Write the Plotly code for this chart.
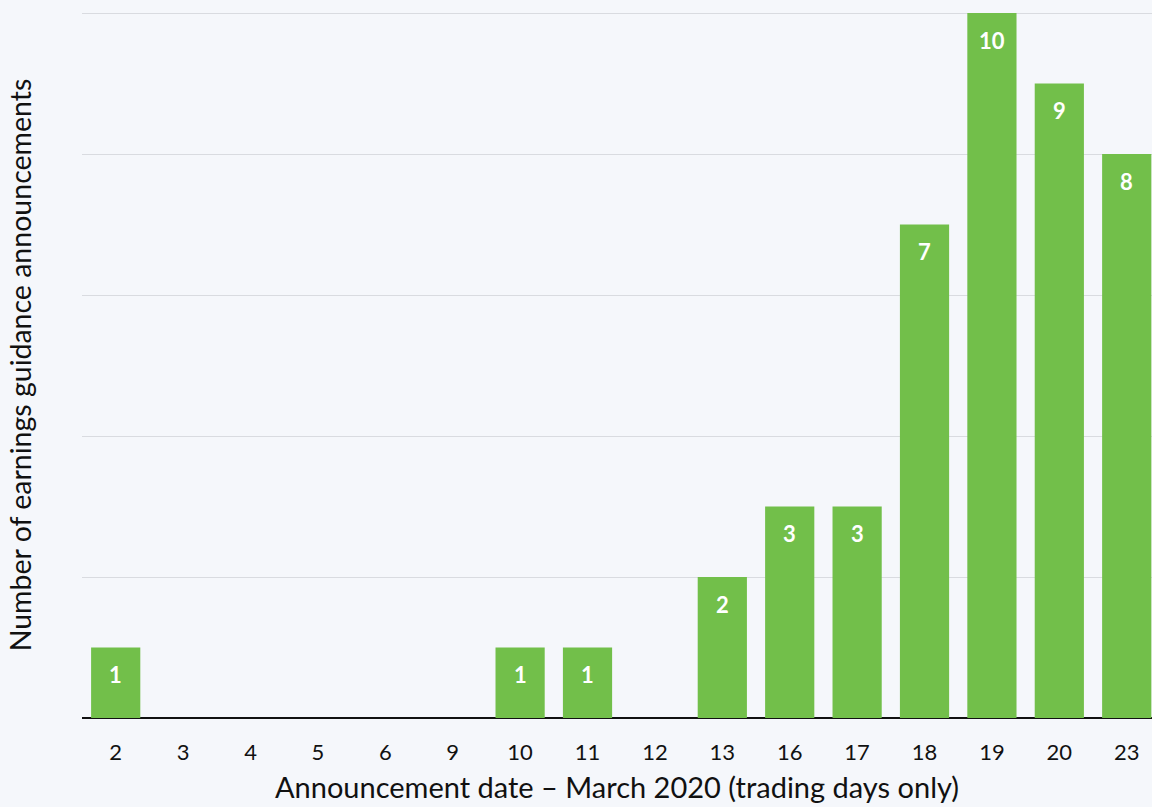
import plotly.graph_objects as go

dates = ["2", "3", "4", "5", "6", "9", "10", "11", "12", "13", "16", "17", "18", "19", "20", "23"]
counts = [1, 0, 0, 0, 0, 0, 1, 1, 0, 2, 3, 3, 7, 10, 9, 8]

FONT = "Lato, 'Open Sans', sans-serif"

fig = go.Figure(go.Bar(
    x=dates, y=counts,
    marker=dict(color="#72bf4a", line=dict(width=0)),
    cliponaxis=False, hoverinfo="x+y",
))
for i, v in enumerate(counts):
    if v > 0:
        fig.add_annotation(x=i, y=v, text=str(v), showarrow=False,
                           yanchor="middle", yshift=-27,
                           font=dict(color="white", size=22, family=FONT, weight="bold"))
fig.update_layout(
    width=1152, height=807,
    margin=dict(l=82, r=0, t=12, b=89),
    paper_bgcolor="#f5f7fb", plot_bgcolor="#f5f7fb",
    bargap=0.27, showlegend=False,
    font=dict(family=FONT, color="#111111"),
)
fig.update_xaxes(
    type="category", range=[-0.5, 15.375],
    showgrid=False, showline=False, zeroline=False,
    ticks="outside", ticklen=15, tickcolor="rgba(0,0,0,0)",
    tickfont=dict(size=22, color="#111111"),
    title=dict(text="Announcement date – March 2020 (trading days only)",
               font=dict(size=29, color="#111111"), standoff=13),
)
fig.update_yaxes(
    range=[0, 10.015], dtick=2, showticklabels=False,
    showgrid=True, gridcolor="#d9dbe0", gridwidth=1,
    zeroline=True, zerolinecolor="#111111", zerolinewidth=2,
    title=dict(text="Number of earnings guidance announcements",
               font=dict(size=28.5, color="#111111"), standoff=41),
    automargin=False,
)
fig.write_html("out.html")
